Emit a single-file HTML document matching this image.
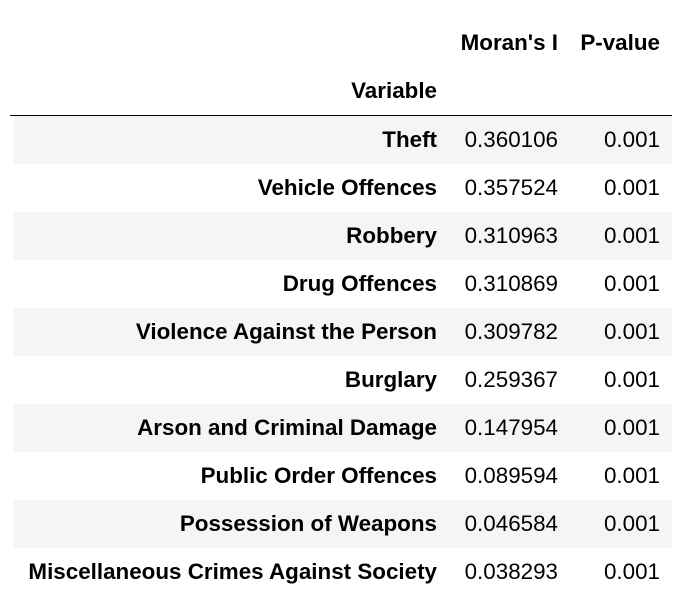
<!DOCTYPE html>
<html><head><meta charset="utf-8"><style>
body{margin:0;width:697px;height:599px;background:#fff;font-family:"Liberation Sans",Arial,sans-serif;font-size:22.4px;color:#000;position:relative;overflow:hidden}
.c{position:absolute;height:48px;line-height:48px;text-align:right;white-space:nowrap}
.b{font-weight:bold}
.stripe{position:absolute;left:14px;width:658px;height:48px;background:#f5f5f5}
.rule{position:absolute;left:10px;width:662px;top:115px;height:1px;background:#000}
</style></head><body>
<div>
<div class="c b" style="top:19px;right:139px">Moran's I</div>
<div class="c b" style="top:19px;right:37px">P-value</div>
<div class="c b" style="top:67px;right:260px">Variable</div>
<div class="rule"></div>
<div id="rows"></div>
</div>
<script>
const variables=["Theft","Vehicle Offences","Robbery","Drug Offences","Violence Against the Person","Burglary","Arson and Criminal Damage","Public Order Offences","Possession of Weapons","Miscellaneous Crimes Against Society"];
const moransI=["0.360106","0.357524","0.310963","0.310869","0.309782","0.259367","0.147954","0.089594","0.046584","0.038293"];
const pValues=["0.001","0.001","0.001","0.001","0.001","0.001","0.001","0.001","0.001","0.001"];
const host=document.getElementById('rows');
variables.forEach((v,i)=>{
  const top=116+i*48;
  if(i%2===0){
    const s=document.createElement('div');s.className='stripe';s.style.top=top+'px';
    
    
    host.appendChild(s);
  }
  const mk=(txt,right,bold,name)=>{
    const d=document.createElement('div');d.className='c'+(bold?' b':'');
    d.style.top=top+'px';d.style.right=right+'px';d.textContent=txt;
    
    
    host.appendChild(d);
  };
  mk(v,260,true,'row-label');
  mk(moransI[i],139,false,'morans-i-value');
  mk(pValues[i],37,false,'p-value');
});
</script>
</body></html>
